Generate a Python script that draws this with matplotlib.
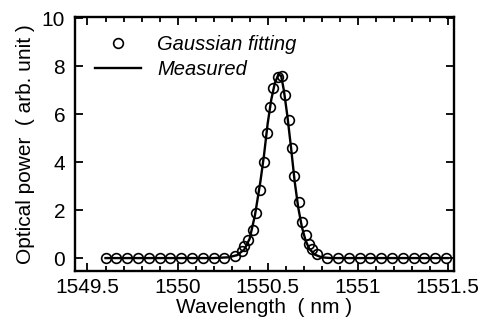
import numpy as np
import matplotlib.pyplot as plt
from matplotlib.ticker import MultipleLocator

plt.rcParams['font.family'] = ['Liberation Sans', 'DejaVu Sans']

# Gaussian fitting points (circles)
fit_wl = [1549.60, 1549.66, 1549.72, 1549.78, 1549.84, 1549.90, 1549.96, 1550.02,
          1550.08, 1550.14, 1550.20, 1550.26, 1550.317, 1550.356, 1550.37, 1550.39,
          1550.417, 1550.433, 1550.456, 1550.478, 1550.494, 1550.511, 1550.528,
          1550.556, 1550.578, 1550.594, 1550.617, 1550.633, 1550.644, 1550.672,
          1550.689, 1550.711, 1550.728, 1550.744, 1550.772, 1550.83, 1550.89,
          1550.95, 1551.01, 1551.07, 1551.13, 1551.19, 1551.25, 1551.31, 1551.37,
          1551.43, 1551.49]
fit_pw = [0, 0, 0, 0, 0, 0, 0, 0,
          0, 0, 0, 0.02, 0.08, 0.3, 0.5, 0.75,
          1.17, 1.9, 2.83, 4.0, 5.2, 6.3, 7.1,
          7.54, 7.58, 6.8, 5.75, 4.58, 3.42, 2.33,
          1.5, 0.96, 0.6, 0.38, 0.18, 0, 0,
          0, 0, 0, 0, 0, 0, 0, 0,
          0, 0]

# measured spectrum (line)
meas_wl = [1549.60, 1550.20, 1550.28, 1550.33, 1550.37, 1550.40, 1550.43, 1550.46,
           1550.48, 1550.50, 1550.52, 1550.54, 1550.56, 1550.575, 1550.59, 1550.61,
           1550.63, 1550.65, 1550.67, 1550.69, 1550.71, 1550.73, 1550.76, 1550.80,
           1550.85, 1551.50]
meas_pw = [0, 0, 0.03, 0.12, 0.35, 0.8, 1.8, 3.2,
           4.3, 5.6, 6.6, 7.3, 7.65, 7.6, 7.0, 5.9,
           4.6, 3.2, 2.1, 1.3, 0.75, 0.4, 0.15, 0.03,
           0, 0]

fig = plt.figure(figsize=(4.8, 3.35), dpi=100)
ax = fig.add_axes([0.156, 0.191, 0.79, 0.758])

ax.plot(fit_wl, fit_pw, 'o', mfc='none', mec='black', ms=7, mew=1.2,
        label='Gaussian fitting')
ax.plot(meas_wl, meas_pw, '-', color='black', lw=1.7, label='Measured')

ax.set_xlim(1549.43, 1551.535)
ax.set_ylim(-0.54, 10.05)
ax.xaxis.set_major_locator(MultipleLocator(0.5))
ax.xaxis.set_minor_locator(MultipleLocator(0.1))
ax.yaxis.set_major_locator(MultipleLocator(2))
ax.set_xticks([1549.5, 1550, 1550.5, 1551, 1551.5])
ax.set_xticklabels(['1549.5', '1550', '1550.5', '1551', '1551.5'])

ax.tick_params(which='both', direction='in', top=True, right=True,
               labelsize=15, width=1.3)
ax.tick_params(axis='x', pad=5)
ax.tick_params(axis='y', pad=7)
ax.tick_params(which='major', length=6)
ax.tick_params(which='minor', length=3.5)
for s in ax.spines.values():
    s.set_linewidth(1.7)

ax.set_xlabel('Wavelength  ( nm )', fontsize=15, labelpad=1)
ax.set_ylabel('Optical power  ( arb. unit )', fontsize=15, labelpad=5)

leg = ax.legend(loc='upper left', frameon=False, fontsize=14.5,
                handlelength=2.3, handletextpad=0.8, borderaxespad=0.3,
                labelspacing=0.3, bbox_to_anchor=(0.015, 0.985))
for t in leg.get_texts():
    t.set_fontstyle('italic')

fig.savefig('out.png', dpi=100)
